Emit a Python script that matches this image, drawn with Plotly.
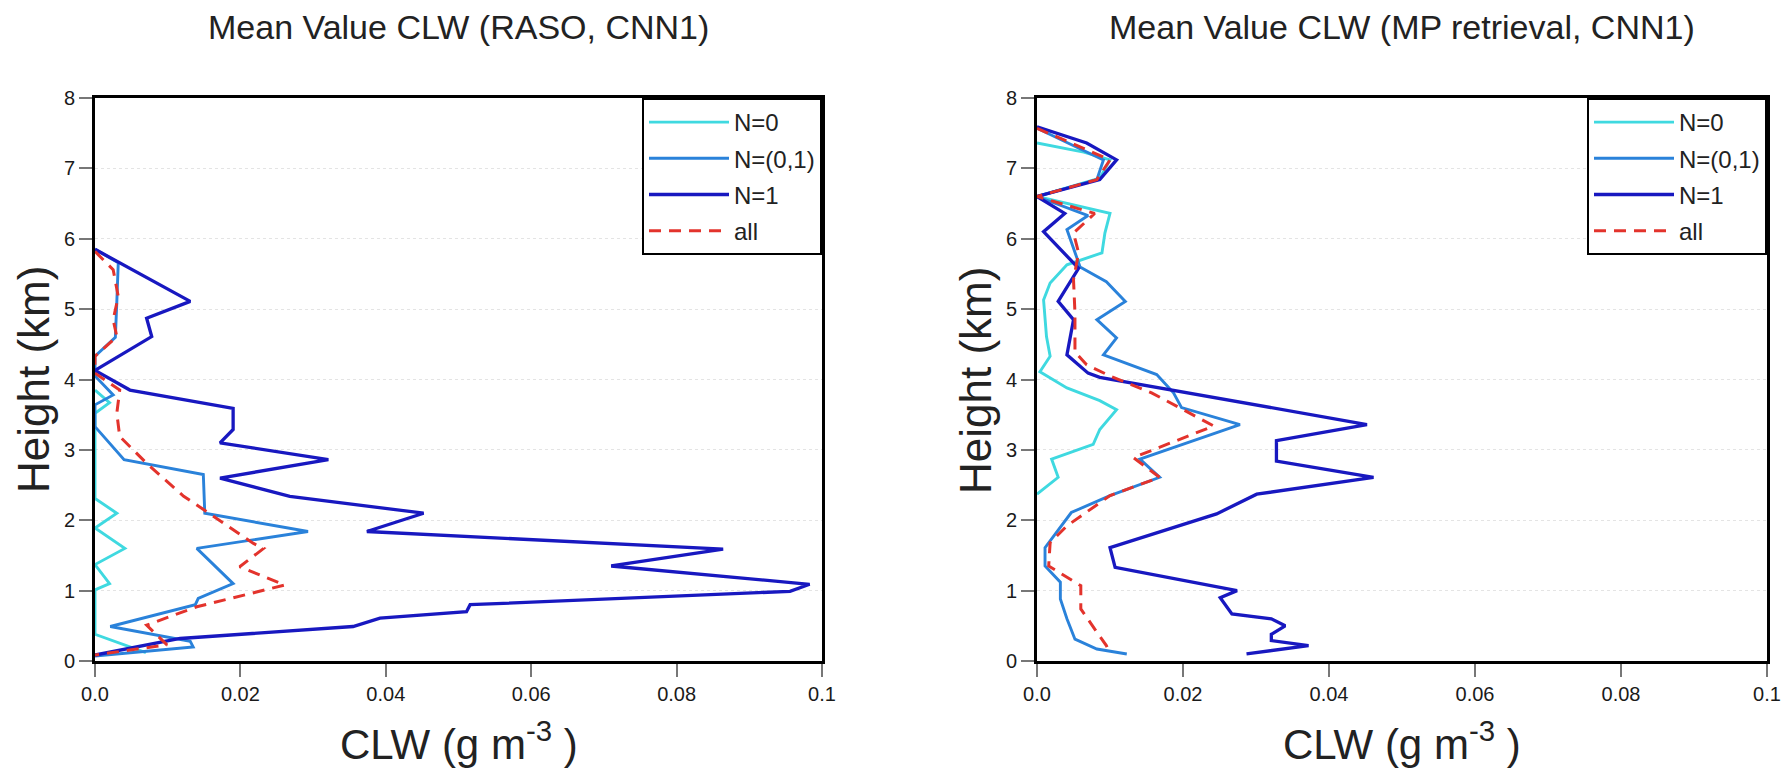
import plotly.graph_objects as go

# ---------------- data (CLW in g m^-3, height in km) ----------------
# Left panel: RASO, CNN1
L_N0_x = [0, 0.002, 0, 0, 0.003, 0, 0.0041, 0, 0.002, 0, 0, 0.0055, 0.007]
L_N0_h = [3.85, 3.67, 3.52, 2.31, 2.10, 1.89, 1.60, 1.37, 1.10, 1.01, 0.38, 0.17, 0.12]

L_N01_x = [0, 0.0032, 0.0030, 0.0028, 0, 0, 0.0025, 0, 0, 0.004, 0.0149, 0.0151, 0.0293, 0.014,
           0.019, 0.0142, 0.0138, 0.0021, 0.0131, 0.0135, 0]
L_N01_h = [5.85, 5.66, 5.10, 4.60, 4.33, 4.05, 3.78, 3.64, 3.33, 2.86, 2.65, 2.10, 1.84, 1.60,
           1.10, 0.89, 0.80, 0.49, 0.28, 0.20, 0.07]

L_N1_x = [0, 0.0131, 0.0071, 0.0078, 0, 0.0048, 0.019, 0.019, 0.0172, 0.0321, 0.0172, 0.0268,
          0.0452, 0.0374, 0.0864, 0.0710, 0.0983, 0.0956, 0.0516, 0.0511, 0.0392, 0.0355, 0.0117, 0]
L_N1_h = [5.85, 5.11, 4.87, 4.61, 4.13, 3.85, 3.59, 3.29, 3.10, 2.86, 2.60, 2.34,
          2.10, 1.84, 1.59, 1.35, 1.09, 0.99, 0.80, 0.70, 0.61, 0.49, 0.32, 0.085]

L_ALL_x = [0, 0.0025, 0.0032, 0.0025, 0.003, 0, 0, 0.0034, 0.003, 0.0034, 0.0071, 0.0122, 0.0154,
           0.0218, 0.0232, 0.0199, 0.0261, 0.014, 0.0071, 0.0099, 0]
L_ALL_h = [5.82, 5.56, 5.18, 4.85, 4.61, 4.33, 4.09, 3.85, 3.52, 3.19, 2.81, 2.34, 2.12,
           1.67, 1.60, 1.34, 1.08, 0.77, 0.51, 0.23, 0.085]

# Right panel: MP retrieval, CNN1
R_N0_x = [0, 0.0064, 0.01, 0.0086, 0, 0.01, 0.0093, 0.0089, 0.0041, 0.0018, 0.0009, 0.0013, 0.0018,
          0.0004, 0.0041, 0.0086, 0.0109, 0.0086, 0.0077, 0.002, 0.0029, 0]
R_N0_h = [7.36, 7.23, 7.12, 6.86, 6.60, 6.36, 6.08, 5.80, 5.63, 5.37, 5.13, 4.61, 4.33,
          4.11, 3.88, 3.70, 3.57, 3.29, 3.08, 2.87, 2.61, 2.37]

R_N01_x = [0, 0.0091, 0.0082, 0, 0.007, 0.0041, 0.0059, 0.0095, 0.0121, 0.0082, 0.0109, 0.0091,
           0.0164, 0.0187, 0.0198, 0.0278, 0.0141, 0.0168, 0.01, 0.0047, 0.0011, 0.0011, 0.0032,
           0.0032, 0.0041, 0.0052, 0.0082, 0.0123]
R_N01_h = [7.57, 7.12, 6.84, 6.60, 6.33, 6.13, 5.60, 5.39, 5.11, 4.85, 4.59, 4.35,
           4.07, 3.81, 3.60, 3.36, 2.87, 2.61, 2.35, 2.11, 1.61, 1.35, 1.12,
           0.88, 0.60, 0.31, 0.17, 0.10]

R_N1_x = [0, 0.0068, 0.0109, 0.0086, 0, 0.0038, 0.0009, 0.0057, 0.0029, 0.005, 0.0041, 0.007,
          0.0086, 0.0452, 0.0328, 0.0328, 0.0461, 0.0301, 0.0246, 0.01, 0.0107, 0.0274, 0.0251,
          0.0267, 0.0321, 0.034, 0.0321, 0.0321, 0.0372, 0.0287]
R_N1_h = [7.59, 7.36, 7.12, 6.84, 6.60, 6.36, 6.10, 5.58, 5.11, 4.85, 4.35, 4.09,
          4.03, 3.36, 3.13, 2.84, 2.61, 2.37, 2.09, 1.61, 1.33, 1.00, 0.90,
          0.67, 0.60, 0.50, 0.38, 0.29, 0.22, 0.10]

R_ALL_x = [0, 0.005, 0.01, 0.0082, 0, 0.0079, 0.005, 0.0057, 0.005, 0.0052, 0.0052, 0.0068, 0.01,
           0.0157, 0.0242, 0.0132, 0.0168, 0.01, 0.0041, 0.0018, 0.0016, 0.006, 0.006, 0.0082,
           0.0095, 0.01]
R_ALL_h = [7.57, 7.35, 7.12, 6.84, 6.60, 6.36, 6.08, 5.80, 5.42, 4.95, 4.39, 4.21, 4.05,
           3.81, 3.34, 2.89, 2.61, 2.35, 1.92, 1.68, 1.35, 1.07, 0.74, 0.41,
           0.22, 0.10]

SERIES = ["N=0", "N=(0,1)", "N=1", "all"]
X_TICKS = [0, 0.02, 0.04, 0.06, 0.08, 0.1]
X_TICKTEXT = ["0.0", "0.02", "0.04", "0.06", "0.08", "0.1"]
Y_TICKS = [0, 1, 2, 3, 4, 5, 6, 7, 8]
TITLES = ["Mean Value CLW (RASO, CNN1)", "Mean Value CLW (MP retrieval, CNN1)"]

# ---------------- styling ----------------
W, H = 1790, 768
FONT = "Liberation Sans, Arial, Helvetica, sans-serif"
COLORS = ["#3fd9e0", "#2a82da", "#1818c0", "#e3332c"]
WIDTHS = [2.9, 2.9, 3.3, 3.0]
DASHES = ["solid", "solid", "solid", "12px,8px"]

PX = [(95, 822), (1037, 1767)]
PY_TOP, PY_BOT = 98, 661

fig = go.Figure()
panels = [
    ([L_N0_x, L_N01_x, L_N1_x, L_ALL_x], [L_N0_h, L_N01_h, L_N1_h, L_ALL_h]),
    ([R_N0_x, R_N01_x, R_N1_x, R_ALL_x], [R_N0_h, R_N01_h, R_N1_h, R_ALL_h]),
]
for p, (xs, hs) in enumerate(panels):
    sfx = "" if p == 0 else "2"
    for i, name in enumerate(SERIES):
        fig.add_trace(go.Scatter(
            x=xs[i], y=hs[i], mode="lines", name=name,
            line=dict(color=COLORS[i], width=WIDTHS[i], dash=DASHES[i]),
            xaxis="x" + sfx, yaxis="y" + sfx,
            legend="legend" + sfx, legendgroup=f"{p}{i}",
            showlegend=True,
        ))

ydom = [1 - PY_BOT / H, 1 - PY_TOP / H]
axis_common = dict(
    showline=True, linecolor="black", linewidth=3, mirror=True,
    ticks="outside", ticklen=13, tickwidth=2, tickcolor="#777",
    tickfont=dict(family=FONT, size=20, color="#1a1a1a"),
    zeroline=False, automargin=False,
)
layout = dict(
    width=W, height=H,
    margin=dict(l=0, r=0, t=0, b=0, pad=0, autoexpand=False),
    paper_bgcolor="white", plot_bgcolor="white",
    font=dict(family=FONT, color="#222"),
)
for p in range(2):
    sfx = "" if p == 0 else "2"
    xdom = [PX[p][0] / W, PX[p][1] / W]
    layout["xaxis" + sfx] = dict(
        domain=xdom, range=[0, 0.1], tickvals=X_TICKS, ticktext=X_TICKTEXT,
        showgrid=False, anchor="y" + sfx, **axis_common)
    layout["yaxis" + sfx] = dict(
        domain=ydom, range=[0, 8], tickvals=Y_TICKS,
        showgrid=True, gridcolor="#e4e4e4", gridwidth=1, griddash="dot",
        anchor="x" + sfx, **axis_common)
    layout["legend" + sfx] = dict(
        x=xdom[1], xanchor="right", y=ydom[1], yanchor="top",
        bgcolor="white", bordercolor="black", borderwidth=2,
        font=dict(family=FONT, size=24, color="#222"),
        tracegroupgap=2, itemwidth=80,
    )

fig.update_layout(**layout)

annotations = []
for p in range(2):
    cx = (PX[p][0] + PX[p][1]) / 2 / W
    annotations.append(dict(
        text=TITLES[p], x=cx, y=1 - 27 / H, xref="paper", yref="paper",
        xanchor="center", yanchor="middle", showarrow=False,
        font=dict(family=FONT, size=34, color="#222")))
    annotations.append(dict(
        text="CLW (g m<sup>-3</sup> )", x=cx, y=1 - 741 / H, xref="paper", yref="paper",
        xanchor="center", yanchor="middle", showarrow=False,
        font=dict(family=FONT, size=42, color="#222")))
    annotations.append(dict(
        text="Height (km)", x=(PX[p][0] - 62) / W, y=1 - 380 / H, xref="paper", yref="paper",
        xanchor="center", yanchor="middle", showarrow=False, textangle=-90,
        font=dict(family=FONT, size=44, color="#222")))
fig.update_layout(annotations=annotations)

fig.write_html("out.html")
